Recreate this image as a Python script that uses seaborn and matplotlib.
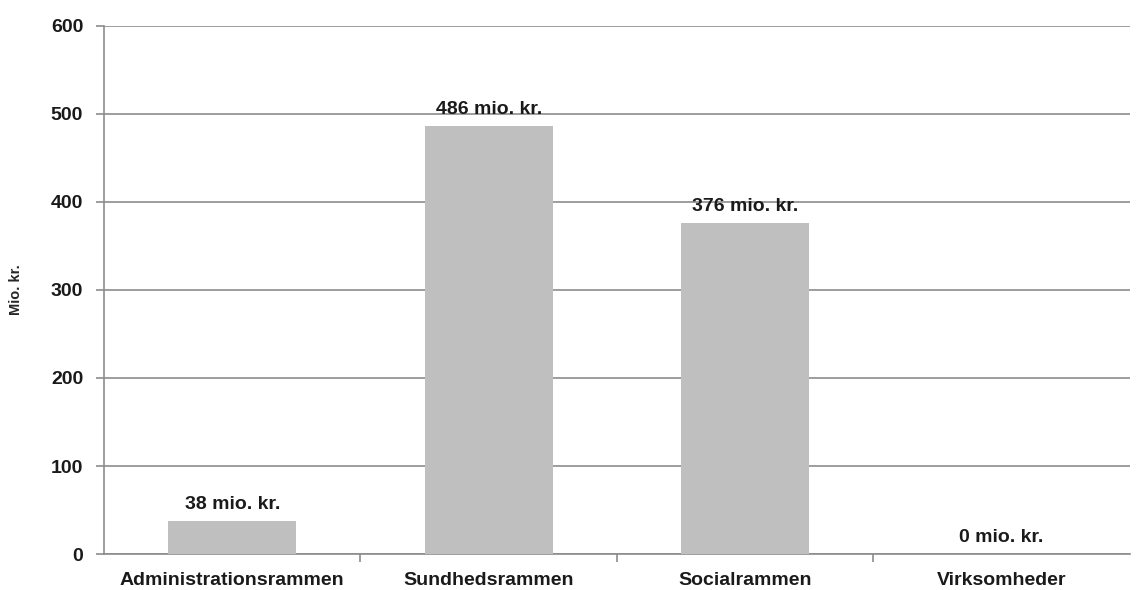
import matplotlib
matplotlib.use('Agg')
import matplotlib.pyplot as plt
import seaborn as sns
import pandas as pd

# Chart data
categories = ['Administrationsrammen', 'Sundhedsrammen', 'Socialrammen', 'Virksomheder']
values = [38, 486, 376, 0]
bar_labels = ['38 mio. kr.', '486 mio. kr.', '376 mio. kr.', '0 mio. kr.']
y_ticks = [0, 100, 200, 300, 400, 500, 600]

df = pd.DataFrame({'Kategori': categories, 'Beloeb': values})

sns.set_style("white")
plt.rcParams['font.family'] = ['Liberation Sans', 'DejaVu Sans']

fig = plt.figure(figsize=(11.46, 5.9), dpi=100)
ax = fig.add_axes([0.0908, 0.061, 0.895, 0.895])

sns.barplot(data=df, x='Kategori', y='Beloeb', color='#bfbfbf', width=0.5,
            saturation=1, linewidth=0, ax=ax, zorder=3)

ax.set_ylim(0, 600)
ax.set_xlim(-0.5, 3.5)
ax.set_yticks(y_ticks)
ax.yaxis.grid(True, color='#8c8c8c', linewidth=1.2, zorder=0)
ax.set_axisbelow(True)

# value labels above the bars
for i, (v, lab) in enumerate(zip(values, bar_labels)):
    ax.text(i, v + 9, lab, ha='center', va='bottom', fontsize=14,
            fontweight='bold', color='#1a1a1a')

for s in ['top', 'right']:
    ax.spines[s].set_visible(False)
for s in ['left', 'bottom']:
    ax.spines[s].set_color('#8c8c8c')
    ax.spines[s].set_linewidth(1.2)

# seaborn's white style hides tick marks, switch them back on
ax.tick_params(axis='y', left=True, length=6, color='#8c8c8c', width=1.2,
               pad=9, labelsize=14)
ax.tick_params(axis='x', which='major', bottom=True, length=0, pad=13,
               labelsize=14)
ax.set_xticks([0.5, 1.5, 2.5], minor=True)
ax.tick_params(axis='x', which='minor', bottom=True, length=6,
               color='#8c8c8c', width=1.2)
for t in ax.get_xticklabels() + ax.get_yticklabels():
    t.set_fontweight('bold')
    t.set_color('#1a1a1a')

ax.set_xlabel('')
ax.set_ylabel('Mio. kr.', fontsize=10.5, fontweight='bold', labelpad=20)

plt.savefig('out.png', dpi=100)
